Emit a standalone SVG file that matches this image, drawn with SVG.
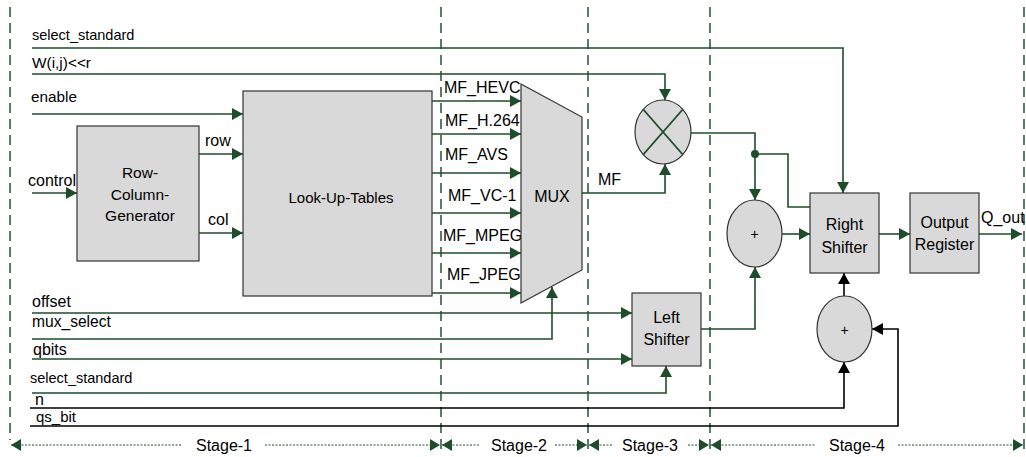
<svg xmlns="http://www.w3.org/2000/svg" width="1026" height="457" viewBox="0 0 1026 457">
<defs>
<marker id="ag" markerUnits="userSpaceOnUse" markerWidth="12" markerHeight="13" refX="11" refY="6" orient="auto"><path d="M0,0 L11,6 L0,12 z" fill="#1e4d2b"/></marker>
<marker id="ak" markerUnits="userSpaceOnUse" markerWidth="12" markerHeight="13" refX="11" refY="6" orient="auto"><path d="M0,0 L11,6 L0,12 z" fill="#000"/></marker>
<marker id="as" markerUnits="userSpaceOnUse" markerWidth="12" markerHeight="13" refX="10" refY="6" orient="auto"><path d="M0,0 L10,6 L0,12 z" fill="#1e4d2b"/></marker>
<marker id="as0" markerUnits="userSpaceOnUse" markerWidth="12" markerHeight="13" refX="0" refY="6" orient="auto"><path d="M10,0 L0,6 L10,12 z" fill="#1e4d2b"/></marker>
</defs>
<style>
text{font-family:"Liberation Sans",Arial,sans-serif;font-size:16px;fill:#000}
.m{text-anchor:middle}
.box{fill:#d9d9d9;stroke:#333;stroke-width:1.2}
.w{fill:none;stroke:#1e4d2b;stroke-width:1.6}
.k{fill:none;stroke:#000;stroke-width:1.6}
.stg{fill:none;stroke:#2f5f3f;stroke-width:1.6;stroke-dasharray:10 6}
.dot{fill:none;stroke:#1e4d2b;stroke-width:1;stroke-dasharray:2 1.5}
</style>
<g id="stage-lines">
<line class="stg" x1="10" y1="7" x2="10" y2="440"/>
<line class="stg" x1="441" y1="7" x2="441" y2="453"/>
<line class="stg" x1="588" y1="7" x2="588" y2="453"/>
<line class="stg" x1="710" y1="7" x2="710" y2="453"/>
<line class="stg" x1="1024" y1="7" x2="1024" y2="453"/>
</g>
<g id="stage-arrows">
<line class="dot" x1="11" y1="445" x2="182" y2="445" marker-start="url(#as0)"/>
<line class="dot" x1="265" y1="445" x2="440" y2="445" marker-end="url(#as)"/>
<line class="dot" x1="442" y1="445" x2="480" y2="445" marker-start="url(#as0)"/>
<line class="dot" x1="555" y1="445" x2="587" y2="445" marker-end="url(#as)"/>
<line class="dot" x1="589" y1="445" x2="612" y2="445" marker-start="url(#as0)"/>
<line class="dot" x1="688" y1="445" x2="709" y2="445" marker-end="url(#as)"/>
<line class="dot" x1="711" y1="445" x2="815" y2="445" marker-start="url(#as0)"/>
<line class="dot" x1="898" y1="445" x2="1023" y2="445" marker-end="url(#as)"/>
<text class="m" x="224" y="451">Stage-1</text>
<text class="m" x="519" y="451">Stage-2</text>
<text class="m" x="650" y="451">Stage-3</text>
<text class="m" x="857" y="451">Stage-4</text>
</g>
<g id="connectors">
<path class="w" d="M32,48 H843 V193" marker-end="url(#ag)"/>
<path class="w" d="M32,74 H665 V100" marker-end="url(#ag)"/>
<path class="w" d="M32,114 H243" marker-end="url(#ag)"/>
<path class="w" d="M32,193 H77" marker-end="url(#ag)"/>
<path class="w" d="M199,154 H243" marker-end="url(#ag)"/>
<path class="w" d="M199,233 H243" marker-end="url(#ag)"/>
<path class="w" d="M432,101 H521" marker-end="url(#ag)"/>
<path class="w" d="M432,134 H521" marker-end="url(#ag)"/>
<path class="w" d="M432,173 H521" marker-end="url(#ag)"/>
<path class="w" d="M432,213 H521" marker-end="url(#ag)"/>
<path class="w" d="M432,253 H521" marker-end="url(#ag)"/>
<path class="w" d="M432,293 H521" marker-end="url(#ag)"/>
<path class="w" d="M582,193 H665 V164" marker-end="url(#ag)"/>
<path class="w" d="M691,133 H755 V200" marker-end="url(#ag)"/>
<circle cx="755" cy="154" r="4" fill="#1e4d2b"/>
<path class="w" d="M755,154 H788 V207 H810"/>
<path class="w" d="M782,234 H810" marker-end="url(#ag)"/>
<path class="w" d="M879,234 H910" marker-end="url(#ag)"/>
<path class="w" d="M979,234 H1022" marker-end="url(#ag)"/>
<path class="w" d="M32,313 H632" marker-end="url(#ag)"/>
<path class="w" d="M32,339 H552 V287" marker-end="url(#ag)"/>
<path class="w" d="M32,359 H632" marker-end="url(#ag)"/>
<path class="w" d="M32,393 H666 V366" marker-end="url(#ag)"/>
<path class="w" d="M701,329 H755 V267" marker-end="url(#ag)"/>
<path class="k" d="M30,408 H844 V362" marker-end="url(#ak)"/>
<path class="k" d="M30,426 H898 V329 H872" marker-end="url(#ak)"/>
<path class="k" d="M844,296 V273" marker-end="url(#ak)"/>
</g>
<g id="labels">
<text x="32" y="40" style="font-size:14.5px">select_standard</text>
<text x="32" y="68" style="font-size:15.4px">W(i,j)&lt;&lt;r</text>
<text x="31" y="102" style="font-size:15.3px">enable</text>
<text x="28" y="186">control</text>
<text x="205" y="146">row</text>
<text x="208" y="225">col</text>
<text x="444" y="93">MF_HEVC</text>
<text x="445" y="126">MF_H.264</text>
<text x="445" y="160">MF_AVS</text>
<text x="448" y="201">MF_VC-1</text>
<text x="443" y="241">MF_MPEG</text>
<text x="447" y="280">MF_JPEG</text>
<text x="598" y="185">MF</text>
<text x="981" y="223">Q_out</text>
<text x="32" y="307">offset</text>
<text x="32" y="327" style="font-size:15.6px">mux_select</text>
<text x="33" y="355">qbits</text>
<text x="30" y="383" style="font-size:14.5px">select_standard</text>
<text x="35" y="405">n</text>
<text x="36" y="422" style="font-size:15px">qs_bit</text>
</g>
<g id="row-column-generator">
<rect class="box" x="77" y="126" width="122" height="135"/>
<text class="m" x="140" y="178" style="font-size:15.5px">Row-</text>
<text class="m" x="140" y="200" style="font-size:15.5px">Column-</text>
<text class="m" x="140" y="221" style="font-size:15.5px">Generator</text>
</g>
<g id="look-up-tables">
<rect class="box" x="243" y="91" width="189" height="205"/>
<text class="m" x="341" y="203" style="font-size:15px">Look-Up-Tables</text>
</g>
<g id="mux">
<polygon class="box" points="521,84 582,117 582,270 521,303"/>
<text class="m" x="552" y="202">MUX</text>
</g>
<g id="multiplier">
<ellipse class="box" cx="663" cy="132" rx="28" ry="32"/>
<line class="w" x1="643.2" y1="109.4" x2="682.8" y2="154.6"/>
<line class="w" x1="643.2" y1="154.6" x2="682.8" y2="109.4"/>
</g>
<g id="adder-1">
<ellipse class="box" cx="754.5" cy="233.5" rx="27.5" ry="33.5"/>
<text class="m" x="754.5" y="239" style="font-size:14px">+</text>
</g>
<g id="adder-2">
<ellipse class="box" cx="844.5" cy="329" rx="27.5" ry="33"/>
<text class="m" x="844.5" y="334.5" style="font-size:14px">+</text>
</g>
<g id="left-shifter">
<rect class="box" x="632" y="293" width="69" height="73"/>
<text class="m" x="666.5" y="323">Left</text>
<text class="m" x="666.5" y="345">Shifter</text>
</g>
<g id="right-shifter">
<rect class="box" x="810" y="193" width="69" height="80"/>
<text class="m" x="844.5" y="230">Right</text>
<text class="m" x="844.5" y="253">Shifter</text>
</g>
<g id="output-register">
<rect class="box" x="910" y="193" width="69" height="80"/>
<text class="m" x="944.5" y="228">Output</text>
<text class="m" x="944.5" y="250">Register</text>
</g>
</svg>
